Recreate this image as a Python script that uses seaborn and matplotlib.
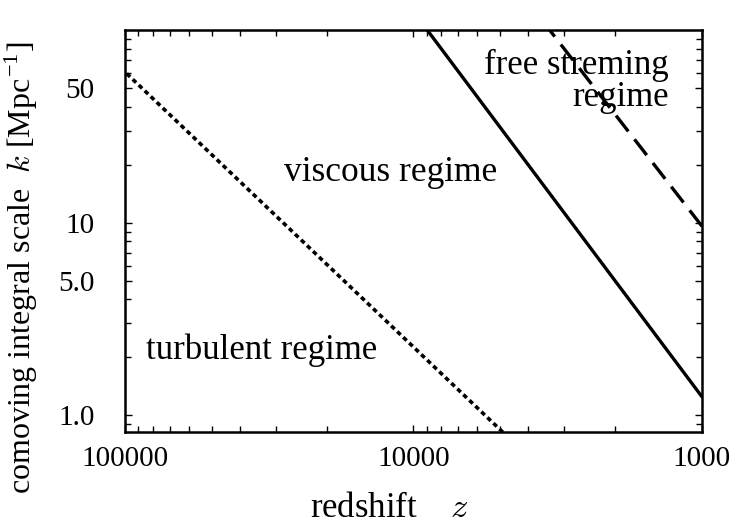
import matplotlib
matplotlib.use("Agg")
import matplotlib.pyplot as plt
import matplotlib.ticker as mticker
import seaborn as sns

# values (redshift z, comoving scale k [1/Mpc])
turb_z = [100000, 4900]
turb_k = [60.7, 0.818]

visc_z = [8950, 1000]
visc_k = [100, 1.25]

free_z = [3370, 1000]
free_k = [100, 9.6]

xticks = [100000, 10000, 1000]
xtick_labels = ["100000", "10000", "1000"]
yticks = [1, 5, 10, 50]
ytick_labels = ["1.0", "5.0", "10", "50"]

sns.set_theme(style="ticks")
plt.rcParams["font.family"] = ["Liberation Serif", "DejaVu Serif"]
plt.rcParams["mathtext.fontset"] = "cm"
for key in ["text.color", "axes.labelcolor", "xtick.color", "ytick.color"]:
    plt.rcParams[key] = "black"

fig, ax = plt.subplots(figsize=(7.35, 5.29), dpi=100)
fig.subplots_adjust(left=0.170, right=0.955, bottom=0.183, top=0.943)

sns.lineplot(x=turb_z, y=turb_k, ax=ax, color="black", lw=2.6)
sns.lineplot(x=visc_z, y=visc_k, ax=ax, color="black", lw=2.4)
sns.lineplot(x=free_z, y=free_k, ax=ax, color="black", lw=2.4)
ax.lines[0].set_dashes((1.3, 1.0))
ax.lines[2].set_dashes((6, 3))

ax.set_xscale("log")
ax.set_yscale("log")
ax.set_xlim(100000, 1000)
ax.set_ylim(0.818, 100)

ax.set_xticks(xticks)
ax.set_xticklabels(xtick_labels)
ax.set_yticks(yticks)
ax.set_yticklabels(ytick_labels)
ax.xaxis.set_minor_locator(mticker.LogLocator(base=10, subs=range(2, 10)))
ax.yaxis.set_minor_locator(mticker.LogLocator(base=10, subs=range(2, 10)))
ax.xaxis.set_minor_formatter(mticker.NullFormatter())
ax.yaxis.set_minor_formatter(mticker.NullFormatter())

for side in ax.spines.values():
    side.set_linewidth(1.8)
    side.set_color("black")
ax.tick_params(which="both", direction="in", top=True, right=True,
               color="black", width=1.0)
ax.tick_params(which="major", length=5)
ax.tick_params(which="minor", length=4)
ax.tick_params(axis="x", which="major", labelsize=21, pad=10)
ax.tick_params(axis="y", which="major", labelsize=21, pad=22)

ax.set_xlabel(r"redshift    $z$", fontsize=25)
ax.xaxis.set_label_coords(0.458, -0.148)
ax.set_ylabel(r"comoving integral scale  $k$ [Mpc$^{\mathregular{-1}}$]",
              fontsize=23)
ax.yaxis.set_label_coords(-0.148, 0.41)

ax.text(0.461, 0.645, "viscous regime", transform=ax.transAxes,
        fontsize=25.5, ha="center", va="center")
ax.text(0.237, 0.205, "turbulent regime", transform=ax.transAxes,
        fontsize=25, ha="center", va="center")
ax.text(0.943, 0.872, "free streming\nregime", transform=ax.transAxes,
        fontsize=25, ha="right", va="center", multialignment="right",
        linespacing=0.95)

fig.savefig("out.png", dpi=100)
